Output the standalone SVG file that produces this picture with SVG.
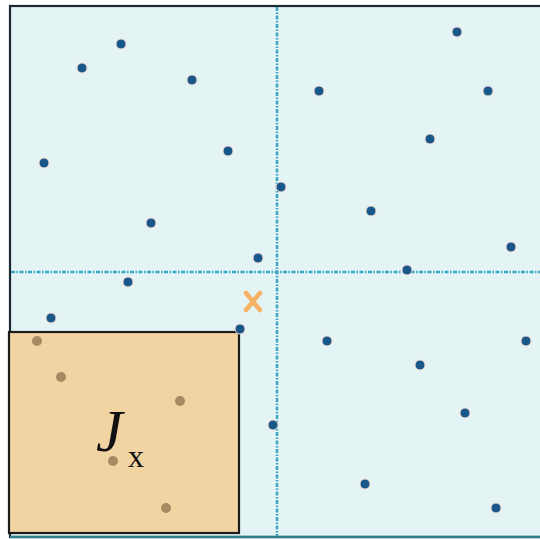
<svg xmlns="http://www.w3.org/2000/svg" width="540" height="539" viewBox="0 0 540 539">
<style>
.pt{fill:#17578a;stroke:#f3d6cf;stroke-width:1}
.pi{fill:#a88a62}
.dash{stroke:#3aa6c6;stroke-width:2.5;stroke-dasharray:4 1.5 1.5 1.5;fill:none}
</style>
<rect x="0" y="0" width="540" height="539" fill="#ffffff"/>
<rect x="10" y="6" width="540" height="531" fill="#e4f3f4" stroke="#1b2a30" stroke-width="2.2"/>
<line x1="10" y1="537" x2="540" y2="537" stroke="#2e7f90" stroke-width="2.5"/>
<line class="dash" x1="277" y1="7" x2="277" y2="536"/>
<line class="dash" x1="11" y1="272" x2="540" y2="272"/>
<rect x="9" y="332" width="230" height="201" fill="#f2d3a2" stroke="#1b1b1b" stroke-width="2.2"/>
<g id="points">
<circle class="pt" cx="121" cy="44" r="5"/>
<circle class="pt" cx="82" cy="68" r="5"/>
<circle class="pt" cx="192" cy="80" r="5"/>
<circle class="pt" cx="228" cy="151" r="5"/>
<circle class="pt" cx="44" cy="163" r="5"/>
<circle class="pt" cx="151" cy="223" r="5"/>
<circle class="pt" cx="258" cy="258" r="5"/>
<circle class="pt" cx="128" cy="282" r="5"/>
<circle class="pt" cx="51" cy="318" r="5"/>
<circle class="pt" cx="240" cy="329" r="5"/>
<circle class="pt" cx="457" cy="32" r="5"/>
<circle class="pt" cx="319" cy="91" r="5"/>
<circle class="pt" cx="488" cy="91" r="5"/>
<circle class="pt" cx="430" cy="139" r="5"/>
<circle class="pt" cx="281" cy="187" r="5"/>
<circle class="pt" cx="371" cy="211" r="5"/>
<circle class="pt" cx="511" cy="247" r="5"/>
<circle class="pt" cx="407" cy="270" r="5"/>
<circle class="pt" cx="327" cy="341" r="5"/>
<circle class="pt" cx="526" cy="341" r="5"/>
<circle class="pt" cx="420" cy="365" r="5"/>
<circle class="pt" cx="465" cy="413" r="5"/>
<circle class="pt" cx="273" cy="425" r="5"/>
<circle class="pt" cx="365" cy="484" r="5"/>
<circle class="pt" cx="496" cy="508" r="5"/>
</g>
<g id="inner-points">
<circle class="pi" cx="37" cy="341" r="5"/>
<circle class="pi" cx="61" cy="377" r="5"/>
<circle class="pi" cx="180" cy="401" r="5"/>
<circle class="pi" cx="113" cy="461" r="5"/>
<circle class="pi" cx="166" cy="508" r="5"/>
</g>
<g id="x-mark" stroke="#f6b264" stroke-width="4.5" stroke-linecap="round">
<line x1="246" y1="293" x2="260" y2="310"/>
<line x1="260" y1="293" x2="246" y2="310"/>
</g>
<g id="label" font-family="'Liberation Serif', serif" fill="#111">
<text x="96" y="451" font-size="60" font-style="italic">J</text>
<text x="128" y="467" font-size="32">x</text>
</g>
</svg>
